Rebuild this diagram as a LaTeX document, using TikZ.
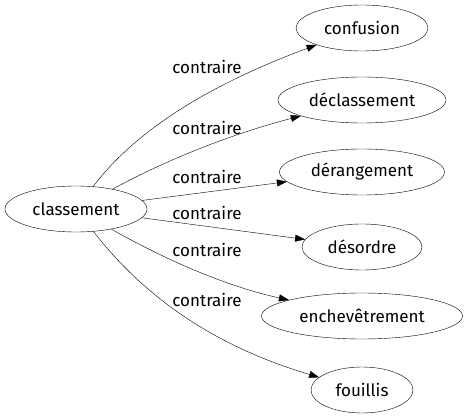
\documentclass[tikz,border=0pt]{standalone}
\usepackage{fontspec}
\setmainfont{Fira Sans}
\usetikzlibrary{shapes.geometric,arrows.meta}

\begin{document}
\begin{tikzpicture}[x=1pt,y=-1pt,
  word/.style={draw,ellipse,inner sep=0pt,minimum height=46pt,font=\fontsize{17}{20}\selectfont},
  rel/.style={-{Triangle[length=10pt,width=7pt]}},
  lab/.style={font=\fontsize{17}{20}\selectfont}]
\useasboundingbox (0,0) rectangle (468,419);
% Words
\node[word,minimum width=142pt] (cl) at (76,209) {classement};
\node[word,minimum width=132pt] (cf) at (362,28) {confusion};
\node[word,minimum width=168pt] (dc) at (362,100) {déclassement};
\node[word,minimum width=165pt] (dr) at (362,172) {dérangement};
\node[word,minimum width=120pt] (ds) at (362,247) {désordre};
\node[word,minimum width=201pt] (en) at (362,316) {enchevêtrement};
\node[word,minimum width=102pt] (fo) at (362,390) {fouillis};

% Edges
\draw[rel] (cl) .. controls (130,138) and (195,90) .. (cf);
\draw[rel] (cl) .. controls (155,166) and (220,137) .. (dc);
\draw[rel] (cl) -- (dr);
\draw[rel] (cl) -- (ds);
\draw[rel] (cl) .. controls (155,254) and (220,285) .. (en);
\draw[rel] (cl) .. controls (135,285) and (200,342) .. (fo);

% Labels
\node[lab] (l1) at (207,67) {contraire};
\node[lab] (l2) at (207,128) {contraire};
\node[lab] (l3) at (207,177) {contraire};
\node[lab] (l4) at (207,213) {contraire};
\node[lab] (l5) at (207,250) {contraire};
\node[lab] (l6) at (207,300) {contraire};
\end{tikzpicture}
\end{document}
